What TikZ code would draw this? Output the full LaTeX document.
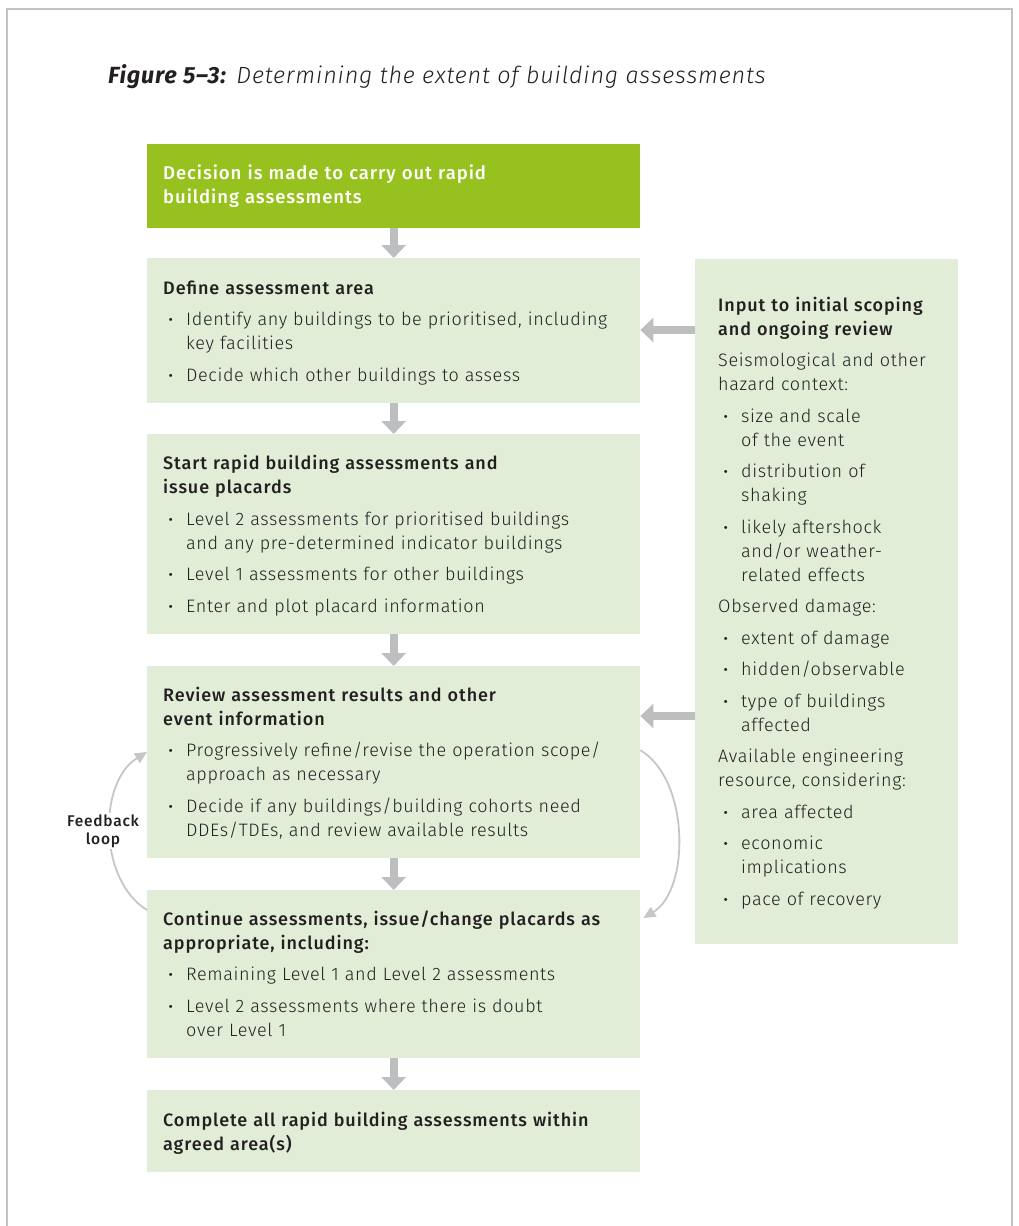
\documentclass[tikz,border=0pt]{standalone}
\usepackage{fontspec}
\setmainfont{Fira Sans Light}[
  LetterSpace=3.5,
  BoldFont={Fira Sans Medium},
  BoldFeatures={LetterSpace=5},
  ItalicFont={Fira Sans Light Italic},
  BoldItalicFont={Fira Sans Bold Italic}]
\usetikzlibrary{arrows.meta}

\definecolor{leaf}{HTML}{97C11F}
\definecolor{pale}{HTML}{E2EDD7}
\definecolor{flowgrey}{HTML}{BDBEC0}
\definecolor{loopgrey}{HTML}{C6C6C6}
\definecolor{ink}{HTML}{231F20}
\definecolor{framegrey}{HTML}{C2C2C2}

% bullet paragraph with hanging indent; line breaks stay inside the paragraph
\newcommand\bul[1]{\par\hangindent=23pt\hangafter=1\noindent
  \makebox[23pt][l]{\hspace{5.5pt}\textbf{·}}{\def\\{\newline}#1}\par}
\newcommand\firstline{\rule{0pt}{15pt}}

\tikzset{
  mainbox/.style={draw=none, fill=pale, anchor=north west, minimum width=493pt, inner sep=0pt},
  sidebox/.style={draw=none, fill=pale, anchor=north west, minimum width=263pt, minimum height=685pt, inner sep=0pt},
  body/.style={anchor=north west, inner sep=0pt, text width=560pt, align=left, text=ink,
    font=\fontsize{18pt}{24pt}\selectfont},
  flowarrow/.style={draw=flowgrey, line width=8pt, line cap=butt,
    -{Triangle[length=13pt, width=24pt]}},
  looparrow/.style={draw=loopgrey, line width=1.8pt,
    -{Triangle[length=12pt, width=11pt]}},
}

\begin{document}
\begin{tikzpicture}[x=1pt, y=-1pt]
\useasboundingbox (0,0) rectangle (1018,1226);

% outer frame, open at the bottom
\draw[framegrey, line width=2.6pt] (7,1226) -- (7,9) -- (1012,9) -- (1012,1226);

% caption
\node[anchor=base west, inner sep=0pt, text=ink, font=\fontsize{23.4pt}{28pt}\selectfont] (title) at (108,83)
  {\textbf{\textit{Figure 5–3:}} \textit{Determining the extent of building assessments}};

% boxes of the main column
\node[mainbox, fill=leaf, minimum height=84pt] (b1) at (147,144) {};
\node[mainbox, minimum height=145pt] (b2) at (147,258) {};
\node[mainbox, minimum height=200pt] (b3) at (147,434) {};
\node[mainbox, minimum height=192pt] (b4) at (147,666) {};
\node[mainbox, minimum height=168pt] (b5) at (147,890) {};
\node[mainbox, minimum height=82pt] (b6) at (147,1090) {};
\node[sidebox] (rb) at (695,259) {};

% texts
\node[body, text=white, font=\fontsize{18.5pt}{24pt}\selectfont] (t1) at ([xshift=16pt, yshift=-20.5pt]b1.north west)
  {\setlength\parskip{7.5pt}\bfseries\firstline Decision is made to carry out rapid\\building assessments};

\node[body] (t2) at ([xshift=16pt, yshift=-21pt]b2.north west)
  {\setlength\parskip{7.5pt}\textbf{\firstline Define assessment area}
   \bul{Identify any buildings to be prioritised, including\\key facilities}
   \bul{Decide which other buildings to assess}};

\node[body] (t3) at ([xshift=16pt, yshift=-20.5pt]b3.north west)
  {\setlength\parskip{7.5pt}\textbf{\firstline Start rapid building assessments and\\issue placards}
   \bul{Level 2 assessments for prioritised buildings\\and any pre-determined indicator buildings}
   \bul{Level 1 assessments for other buildings}
   \bul{Enter and plot placard information}};

\node[body] (t4) at ([xshift=16pt, yshift=-20pt]b4.north west)
  {\setlength\parskip{7.5pt}\textbf{\firstline Review assessment results and other\\event information}
   \bul{Progressively refine/revise the operation scope/\\approach as necessary}
   \bul{Decide if any buildings/building cohorts need\\DDEs/TDEs, and review available results}};

\node[body] (t5) at ([xshift=16pt, yshift=-20pt]b5.north west)
  {\setlength\parskip{7.5pt}\textbf{\firstline Continue assessments, issue/change placards as\\appropriate, including:}
   \bul{Remaining Level 1 and Level 2 assessments}
   \bul{Level 2 assessments where there is doubt\\over Level 1}};

\node[body] (t6) at ([xshift=16pt, yshift=-21pt]b6.north west)
  {\setlength\parskip{7.5pt}\textbf{\firstline Complete all rapid building assessments within\\agreed area(s)}};

\node[body, text width=300pt] (t7) at ([xshift=23pt, yshift=-37pt]rb.north west)
  {\setlength\parskip{7.5pt}\textbf{\firstline Input to initial scoping\\and ongoing review}\par
   Seismological and other\\hazard context:
   \bul{size and scale\\of the event}
   \bul{distribution of\\shaking}
   \bul{likely aftershock\\and/or weather-\\related effects}
   Observed damage:
   \bul{extent of damage}
   \bul{hidden/observable}
   \bul{type of buildings\\affected}
   Available engineering\\resource, considering:
   \bul{area affected}
   \bul{economic\\implications}
   \bul{pace of recovery}};

% downward flow
\draw[flowarrow] (b1.south) -- (b2.north);
\draw[flowarrow] (b2.south) -- (b3.north);
\draw[flowarrow] (b3.south) -- (b4.north);
\draw[flowarrow] (b4.south) -- (b5.north);
\draw[flowarrow] (b5.south) -- (b6.north);

% inputs from the side panel
\coordinate (in1) at (0,330);
\coordinate (in2) at (0,716);
\draw[flowarrow] (rb.west |- in1) -- (b2.east |- in1);
\draw[flowarrow] (rb.west |- in2) -- (b4.east |- in2);

% feedback loop
\draw[looparrow] ([yshift=-20pt]b5.north west) .. controls (98,880) and (98,782) .. ([yshift=-86pt]b4.north west);
\node[fill=white, inner sep=1pt, align=center, text=ink,
  font=\bfseries\fontsize{15.5pt}{18pt}\selectfont] (fb) at (103,831) {Feedback\\loop};

\draw[looparrow] ([yshift=12pt]b4.east) .. controls (690,780) and (690,890) .. ([xshift=3pt, yshift=-28pt]b5.north east);

\end{tikzpicture}
\end{document}
